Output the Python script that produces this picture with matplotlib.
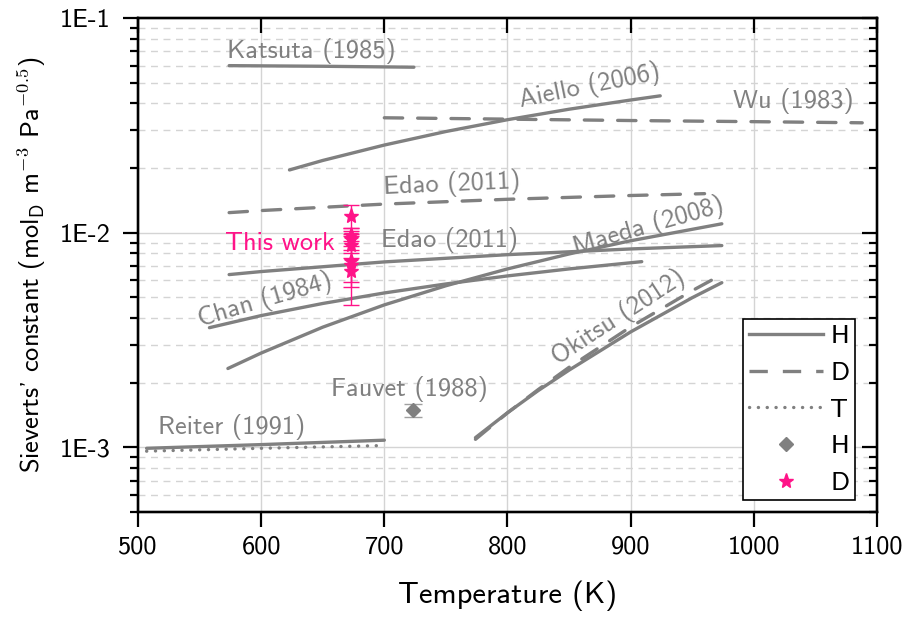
import matplotlib
matplotlib.use("Agg")
import matplotlib.pyplot as plt
from matplotlib.ticker import LogLocator, NullFormatter, FixedLocator, FixedFormatter
from matplotlib.lines import Line2D

plt.rcParams['font.family'] = ['cmss10', 'DejaVu Sans']
plt.rcParams['mathtext.fontset'] = 'cm'
plt.rcParams['axes.unicode_minus'] = False

# ---------------- data ----------------
katsuta_T = [574, 650, 724]
katsuta_K = [0.0600, 0.0596, 0.0590]

aiello_T = [623, 650, 700, 750, 800, 850, 900, 924]
aiello_K = [0.0196, 0.0217, 0.0256, 0.0296, 0.0336, 0.0376, 0.0415, 0.0434]

wu_T = [700, 800, 900, 1000, 1088]
wu_K = [0.0343, 0.0338, 0.0333, 0.0329, 0.0325]

edaoD_T = [574, 600, 700, 800, 900, 960]
edaoD_K = [0.0124, 0.01268, 0.01359, 0.01431, 0.01490, 0.0152]

edaoH_T = [574, 600, 700, 800, 900, 974]
edaoH_K = [0.00638, 0.00659, 0.00731, 0.00790, 0.00840, 0.00871]

maeda_T = [573, 600, 650, 700, 750, 800, 850, 900, 974]
maeda_K = [0.00233, 0.00275, 0.00363, 0.00461, 0.00566, 0.00678, 0.00796, 0.00917, 0.0110]

chan_T = [558, 600, 650, 700, 750, 800, 850, 909]
chan_K = [0.00361, 0.00411, 0.00468, 0.00524, 0.00577, 0.00629, 0.00678, 0.00733]

okitsuH_T = [774, 800, 825, 850, 900, 950, 974]
okitsuH_K = [0.00111, 0.00145, 0.00184, 0.00229, 0.00345, 0.00498, 0.00585]

okitsuD_T = [774, 800, 825, 850, 900, 950, 974]
okitsuD_K = [0.00109, 0.001448, 0.00186, 0.00236, 0.00364, 0.00537, 0.00638]

reiterH_T = [507, 600, 700]
reiterH_K = [0.00099, 0.00103, 0.00108]

reiterT_T = [507, 600, 700]
reiterT_K = [0.00096, 0.00099, 0.00102]

fauvet_T = [723]
fauvet_K = [0.00149]
fauvet_err = [0.00011]

thiswork_T = [673, 673, 673, 673, 673, 673, 673]
thiswork_K = [0.0120, 0.0098, 0.0093, 0.0088, 0.0074, 0.0071, 0.0066]
thiswork_err = [0.0015, 0.0007, 0.0006, 0.0008, 0.0028, 0.0012, 0.0010]

x_ticks = [500, 600, 700, 800, 900, 1000, 1100]
y_ticks = [1e-3, 1e-2, 1e-1]
y_ticklabels = ['1E-3', '1E-2', '1E-1']

labels = [
    ("Katsuta (1985)", 641, 0.0705, 0),
    ("Aiello (2006)", 867, 0.0480, 11.5),
    ("Wu (1983)", 1032, 0.0411, 0),
    ("Edao (2011)", 755, 0.0169, 2.5),
    ("Edao (2011)", 753, 0.00928, 0),
    ("Maeda (2008)", 914, 0.01075, 16),
    ("Chan (1984)", 603, 0.00488, 16.5),
    ("Okitsu (2012)", 890, 0.00406, 33),
    ("Fauvet (1988)", 720, 0.00188, 0),
    ("Reiter (1991)", 576, 0.00124, 0),
]
thiswork_label = ("This work", 615, 0.00889)

# ---------------- style ----------------
GRAY = '#808080'
PINK = '#ff1388'
LW = 2.4
DASH = (0, (5.5, 4.5))
DOT = (0, (0.05, 2.6))
FS_LAB = 19

fig = plt.figure(figsize=(9.06, 6.17), dpi=100)
ax = fig.add_axes([0.1523, 0.1702, 0.8157, 0.8006])
ax.set_yscale('log')
ax.set_xlim(500, 1100)
ax.set_ylim(5e-4, 1e-1)

ax.plot(katsuta_T, katsuta_K, color=GRAY, lw=LW, solid_capstyle='round')
ax.plot(aiello_T, aiello_K, color=GRAY, lw=LW, solid_capstyle='round')
ax.plot(wu_T, wu_K, color=GRAY, lw=LW, linestyle=DASH, dash_capstyle='round')
ax.plot(edaoD_T, edaoD_K, color=GRAY, lw=LW, linestyle=DASH, dash_capstyle='round')
ax.plot(edaoH_T, edaoH_K, color=GRAY, lw=LW, solid_capstyle='round')
ax.plot(maeda_T, maeda_K, color=GRAY, lw=LW, solid_capstyle='round')
ax.plot(chan_T, chan_K, color=GRAY, lw=LW, solid_capstyle='round')
ax.plot(okitsuH_T, okitsuH_K, color=GRAY, lw=LW, solid_capstyle='round')
ax.plot(okitsuD_T, okitsuD_K, color=GRAY, lw=LW, linestyle=DASH, dash_capstyle='round')
ax.plot(reiterH_T, reiterH_K, color=GRAY, lw=LW, solid_capstyle='round')
ax.plot(reiterT_T, reiterT_K, color=GRAY, lw=LW, linestyle=DOT, dash_capstyle='round')

ax.errorbar(fauvet_T, fauvet_K, yerr=fauvet_err, fmt='D', color=GRAY, ms=7,
            ecolor='#a0a0a0', elinewidth=1, capsize=6.5, capthick=1, zorder=5)
ax.errorbar(thiswork_T, thiswork_K, yerr=thiswork_err, fmt='*', color=PINK, ms=11,
            ecolor=PINK, elinewidth=1, capsize=6, capthick=1, zorder=6)

for txt, x, y, rot in labels:
    ax.text(x, y, txt, color=GRAY, fontsize=FS_LAB, ha='center', va='center',
            rotation=rot, rotation_mode='anchor')
ax.text(thiswork_label[1], thiswork_label[2], thiswork_label[0], color=PINK,
        fontsize=FS_LAB, ha='center', va='center')

# ticks & grid
ax.set_xticks(x_ticks)
ax.yaxis.set_major_locator(FixedLocator(y_ticks))
ax.yaxis.set_major_formatter(FixedFormatter(y_ticklabels))
ax.yaxis.set_minor_locator(LogLocator(base=10, subs=range(2, 10)))
ax.yaxis.set_minor_formatter(NullFormatter())
ax.tick_params(which='major', direction='out', length=11, width=1.6, labelsize=19,
               top=False, right=False)
ax.tick_params(axis='y', which='major', pad=9)
ax.tick_params(axis='x', which='major', pad=6)
ax.tick_params(which='minor', direction='out', length=6, width=1.6, top=False, right=False)
ax.grid(which='major', axis='both', color='#d4d4d4', lw=1.0, linestyle='-')
ax.grid(which='minor', axis='y', color='#d4d4d4', lw=1.0, linestyle=(0, (5, 4)))
ax.set_axisbelow(True)
for s in ax.spines.values():
    s.set_linewidth(1.6)

axt = ax.twiny()
axt.set_xlim(ax.get_xlim())
axt.set_xticks(x_ticks)
axt.tick_params(direction='in', length=11, width=1.6, labeltop=False)
axr = ax.twinx()
axr.set_yscale('log')
axr.set_ylim(ax.get_ylim())
axr.yaxis.set_major_locator(FixedLocator(y_ticks))
axr.yaxis.set_minor_locator(LogLocator(base=10, subs=range(2, 10)))
axr.yaxis.set_minor_formatter(NullFormatter())
axr.tick_params(which='major', direction='in', length=11, width=1.6, labelright=False)
axr.tick_params(which='minor', direction='in', length=6, width=1.6, labelright=False)
for a in (axt, axr):
    for s in a.spines.values():
        s.set_linewidth(1.6)

ax.set_xlabel('Temperature (K)', fontsize=22, labelpad=16)
ax.set_ylabel(r"Sieverts' constant (mol$_\mathsf{D}$ m$^\mathsf{-3}$ Pa$^\mathsf{-0.5}$)",
              fontsize=19, labelpad=8)

handles = [
    Line2D([], [], color=GRAY, lw=LW),
    Line2D([], [], color=GRAY, lw=LW, linestyle=DASH),
    Line2D([], [], color=GRAY, lw=LW, linestyle=DOT, dash_capstyle='round'),
    Line2D([], [], color=GRAY, marker='D', ms=7, linestyle='none'),
    Line2D([], [], color=PINK, marker='*', ms=11, linestyle='none'),
]
leg = ax.legend(handles, ['H', 'D', 'T', 'H', 'D'], loc='lower right',
                bbox_to_anchor=(0.970, 0.024), borderaxespad=0, fontsize=19,
                handlelength=2.8, labelspacing=0.5, fancybox=False,
                edgecolor='black', framealpha=1, borderpad=0.2, handletextpad=0.3)
leg.get_frame().set_linewidth(1.2)
leg.set_zorder(10)

fig.savefig('out.png', dpi=100)
